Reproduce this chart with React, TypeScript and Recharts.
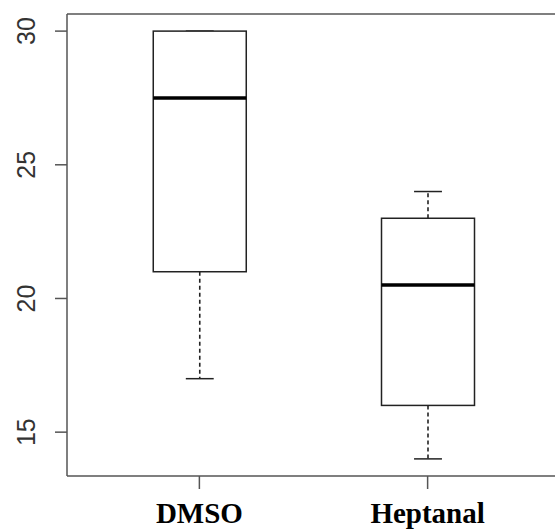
import React from "react"
import { ComposedChart, Bar, XAxis, YAxis, ReferenceLine } from "recharts"

const groups = ["DMSO", "Heptanal"]
const mins = [17, 14]
const q1s = [21, 16]
const medians = [27.5, 20.5]
const q3s = [30, 23]
const maxs = [30, 24]
const yTicks = [15, 20, 25, 30]

// R-style padded limits (4% each side)
const yMin = 13.36
const yMax = 30.64

const data = groups.map((name, i) => ({
    name,
    pos: i + 1,
    range: [mins[i], maxs[i]],
    min: mins[i],
    q1: q1s[i],
    median: medians[i],
    q3: q3s[i],
    max: maxs[i],
}))

const BoxShape = (props: any) => {
    const { x, y, width, height, payload } = props
    const span = payload.max - payload.min
    const k = span > 0 ? height / span : 0
    const py = (v: number) => y + (payload.max - v) * k
    const cx = x + width / 2
    const cap = width * 0.15
    const boxStroke = "#222"
    return (
        <g>
            <line x1={cx} x2={cx} y1={py(payload.q3)} y2={py(payload.max)} stroke={boxStroke} strokeWidth={1.6} strokeDasharray="4 3" />
            <line x1={cx} x2={cx} y1={py(payload.q1)} y2={py(payload.min)} stroke={boxStroke} strokeWidth={1.6} strokeDasharray="4 3" />
            <line x1={cx - cap} x2={cx + cap} y1={py(payload.max)} y2={py(payload.max)} stroke={boxStroke} strokeWidth={1.5} />
            <line x1={cx - cap} x2={cx + cap} y1={py(payload.min)} y2={py(payload.min)} stroke={boxStroke} strokeWidth={1.5} />
            <rect x={x} y={py(payload.q3)} width={width} height={py(payload.q1) - py(payload.q3)} fill="#fff" stroke={boxStroke} strokeWidth={1.5} />
            <line x1={x} x2={x + width} y1={py(payload.median)} y2={py(payload.median)} stroke="#000" strokeWidth={3.5} />
        </g>
    )
}

const YTick = (props: any) => {
    const { y, payload } = props
    return (
        <text x={35} y={y} transform={`rotate(-90, 35, ${y})`} textAnchor="middle" fontSize={25} fill="#333" fontFamily="Liberation Sans, Arial, sans-serif">
            {payload.value}
        </text>
    )
}

const XTick = (props: any) => {
    const { x, y, payload } = props
    return (
        <text x={x} y={y + 32} textAnchor="middle" fontSize={29} fontWeight="bold" fill="#000" fontFamily="Liberation Serif, Times New Roman, serif">
            {groups[payload.value - 1]}
        </text>
    )
}

export default function App() {
    return (
        <div style={{ position: "absolute", left: 0, top: 0, width: 555, height: 529, overflow: "hidden", background: "#fff" }}>
            <ComposedChart width={570} height={529} data={data} margin={{ top: 14, right: 10, left: 0, bottom: 0 }}>
                <XAxis
                    dataKey="pos"
                    type="number"
                    domain={[0.42, 2.58]}
                    ticks={[1, 2]}
                    allowDataOverflow
                    height={53}
                    stroke="#555"
                    strokeWidth={1.5}
                    tickSize={13}
                    tick={<XTick />}
                />
                <YAxis
                    type="number"
                    domain={[yMin, yMax]}
                    ticks={yTicks}
                    allowDataOverflow
                    width={67}
                    stroke="#555"
                    strokeWidth={1.5}
                    tickSize={12}
                    tick={<YTick />}
                />
                <ReferenceLine y={yMax} stroke="#555" strokeWidth={1.5} ifOverflow="visible" />
                <Bar dataKey="range" barSize={93} shape={<BoxShape />} isAnimationActive={false} />
            </ComposedChart>
        </div>
    )
}
